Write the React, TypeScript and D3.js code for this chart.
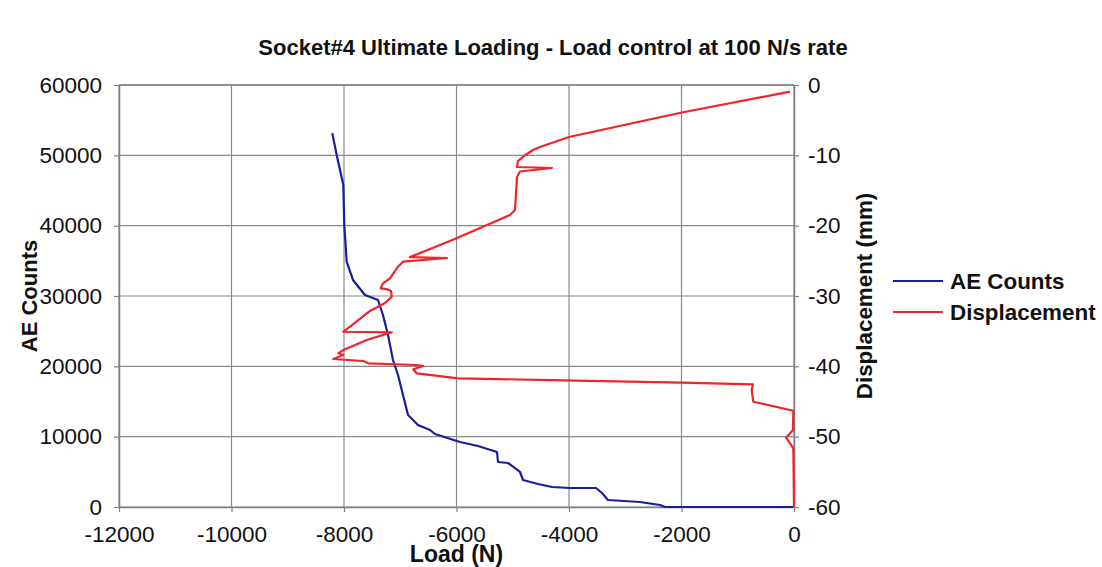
import React, { useEffect, useRef } from "react";
import * as d3 from "d3";

// AE counts curve (load N, counts)
const aeLoad = [
  -8208, -8130, -8012, -7995, -7952, -7840, -7627, -7396, -7307, -7218, -7129,
  -7040, -6951, -6862, -6684, -6471, -6382, -5938, -5618, -5280, -5262, -5084,
  -4871, -4818, -4551, -4302, -3982, -3520, -3413, -3307, -2738, -2382, -2293, -18,
];
const aeCounts = [
  53137, 50051, 45785, 40098, 34837, 32277, 30144, 29433, 27300, 24457, 20902,
  18769, 15925, 13081, 11660, 10949, 10380, 9242, 8674, 7820, 6399, 6256,
  4977, 3839, 3270, 2844, 2702, 2702, 1991, 995, 711, 284, 0, 0,
];

// Displacement curve (load N, displacement mm)
const dispLoad = [
  -71, -1996, -4000, -4516, -4640, -4800, -4907, -4924, -4302, -4871, -4924,
  -4960, -5049, -5991, -6116, -6827, -6169, -6951, -7040, -7182, -7307, -7348,
  -7241, -7164, -7152, -7271, -7538, -7893, -8012, -7152, -7596, -8012, -8101,
  -8012, -8190, -7657, -7568, -6708, -6590, -6768, -6708, -5968, -4338, -1996,
  -729, -752, -724, -12, -18, -142, -71, -12, 0,
];
const dispMm = [
  -0.95, -3.91, -7.39, -8.82, -9.24, -10.1, -10.81, -11.66, -11.8, -12.3, -13.08,
  -17.77, -18.48, -21.75, -22.18, -24.46, -24.6, -25.12, -25.84, -27.49, -28.2, -28.91,
  -29.01, -29.29, -30.1, -31.0, -32.13, -34.37, -35.08, -35.16, -36.26, -37.68, -38.15,
  -38.39, -38.96, -39.24, -39.57, -39.81, -39.95, -40.42, -40.99, -41.7, -41.95, -42.33,
  -42.56, -43.37, -45.03, -46.31, -49.05, -50.15, -50.95, -51.66, -59.96,
];

const loadTicks = [-12000, -10000, -8000, -6000, -4000, -2000, 0];
const countTicks = [0, 10000, 20000, 30000, 40000, 50000, 60000];
const dispTicks = [0, -10, -20, -30, -40, -50, -60];

const FONT = "'Liberation Sans', Arial, sans-serif";
const BLUE = "#1c1c9c";
const RED = "#f0242a";

const App = () => {
  const svgRef = useRef<SVGSVGElement>(null);

  useEffect(() => {
    const width = 1102;
    const height = 567;
    const margin = { top: 85, right: 308, bottom: 60, left: 119 };
    const innerW = width - margin.left - margin.right;
    const innerH = height - margin.top - margin.bottom;
    const fmt = (d) => String(d); // plain hyphen minus like the original

    const root = d3.select(svgRef.current);
    root.selectAll("*").remove();

    const svg = root
      .append("g")
      .attr("transform", "translate(" + margin.left + "," + margin.top + ")");

    const x = d3.scaleLinear().domain([-12000, 0]).range([0, innerW]);
    const yL = d3.scaleLinear().domain([0, 60000]).range([innerH, 0]);
    const yR = d3.scaleLinear().domain([-60, 0]).range([innerH, 0]);

    // gridlines
    svg
      .append("g")
      .selectAll("line")
      .data(loadTicks)
      .enter()
      .append("line")
      .attr("x1", (d) => x(d))
      .attr("x2", (d) => x(d))
      .attr("y1", 0)
      .attr("y2", innerH)
      .attr("stroke", "#8a8a8a")
      .attr("stroke-width", 1.2);
    svg
      .append("g")
      .selectAll("line")
      .data(countTicks)
      .enter()
      .append("line")
      .attr("x1", 0)
      .attr("x2", innerW)
      .attr("y1", (d) => yL(d))
      .attr("y2", (d) => yL(d))
      .attr("stroke", "#8a8a8a")
      .attr("stroke-width", 1.2);

    const styleAxis = (g, anchor) => {
      g.select(".domain").attr("stroke", "#808080").attr("stroke-width", 1.5);
      g.selectAll(".tick line").attr("stroke", "#808080").attr("stroke-width", 1.2);
      g.selectAll("text")
        .attr("fill", "#111")
        .style("font-family", FONT)
        .style("font-size", "22.5px");
      if (anchor) g.selectAll("text").style("text-anchor", anchor);
    };

    svg
      .append("g")
      .attr("transform", "translate(0," + innerH + ")")
      .call(d3.axisBottom(x).tickValues(loadTicks).tickSize(5).tickSizeOuter(0).tickPadding(14).tickFormat(fmt))
      .call((g) => styleAxis(g, null));

    svg
      .append("g")
      .call(d3.axisLeft(yL).tickValues(countTicks).tickSize(5).tickSizeOuter(0).tickPadding(12).tickFormat(fmt))
      .call((g) => styleAxis(g, "end"));

    svg
      .append("g")
      .attr("transform", "translate(" + innerW + ",0)")
      .call(d3.axisRight(yR).tickValues(dispTicks).tickSize(5).tickSizeOuter(0).tickPadding(9).tickFormat(fmt))
      .call((g) => styleAxis(g, "start"));

    // top border
    svg
      .append("line")
      .attr("x1", 0)
      .attr("x2", innerW)
      .attr("y1", 0)
      .attr("y2", 0)
      .attr("stroke", "#808080")
      .attr("stroke-width", 1.5);

    // curves
    const aeLine = d3
      .line<number>()
      .x((d) => x(d))
      .y((d, i) => yL(aeCounts[i]));
    svg
      .append("path")
      .datum(aeLoad)
      .attr("d", aeLine)
      .attr("fill", "none")
      .attr("stroke", BLUE)
      .attr("stroke-width", 2.2)
      .attr("stroke-linejoin", "round");

    const dispLine = d3
      .line<number>()
      .x((d) => x(d))
      .y((d, i) => yR(dispMm[i]));
    svg
      .append("path")
      .datum(dispLoad)
      .attr("d", dispLine)
      .attr("fill", "none")
      .attr("stroke", RED)
      .attr("stroke-width", 2.2)
      .attr("stroke-linejoin", "round");

    const bold = (sel, size) =>
      sel
        .style("font-family", FONT)
        .style("font-weight", "bold")
        .style("font-size", size)
        .attr("fill", "#111");

    // titles
    root
      .append("text")
      .attr("x", 553)
      .attr("y", 55)
      .attr("text-anchor", "middle")
      .call((s) => bold(s, "22px"))
      .text("Socket#4 Ultimate Loading - Load control at 100 N/s rate");

    root
      .append("text")
      .attr("x", margin.left + innerW / 2)
      .attr("y", 562)
      .attr("text-anchor", "middle")
      .call((s) => bold(s, "23px"))
      .text("Load (N)");

    root
      .append("text")
      .attr("transform", "translate(37," + (margin.top + innerH / 2) + ") rotate(-90)")
      .attr("text-anchor", "middle")
      .call((s) => bold(s, "22px"))
      .text("AE Counts");

    root
      .append("text")
      .attr("transform", "translate(872," + (margin.top + innerH / 2) + ") rotate(-90)")
      .attr("text-anchor", "middle")
      .call((s) => bold(s, "22.4px"))
      .text("Displacement (mm)");

    // legend
    const legend = [
      { name: "AE Counts", color: BLUE, y: 281 },
      { name: "Displacement", color: RED, y: 312 },
    ];
    const lg = root.append("g");
    legend.forEach((item) => {
      lg.append("line")
        .attr("x1", 893)
        .attr("x2", 943)
        .attr("y1", item.y)
        .attr("y2", item.y)
        .attr("stroke", item.color)
        .attr("stroke-width", 2);
      lg.append("text")
        .attr("x", 950)
        .attr("y", item.y + 8)
        .call((s) => bold(s, "22.4px"))
        .text(item.name);
    });
  }, []);

  return (
    <svg
      ref={svgRef}
      width={1102}
      height={567}
      style={{ position: "absolute", left: 0, top: 0, background: "#fff" }}
    ></svg>
  );
};

export default App;
